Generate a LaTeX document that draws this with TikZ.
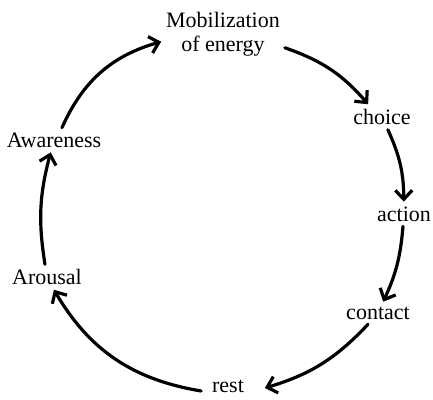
\documentclass[tikz,border=0pt]{standalone}
\usepackage{fontspec}
\setmainfont{Liberation Serif}
\usetikzlibrary{arrows.meta,calc}
\tikzset{
  lbl/.style={font=\fontsize{22}{24}\selectfont, inner sep=2pt, outer sep=3pt, align=center},
  arr/.style={line width=3.2pt, line cap=round, -{Straight Barb[length=9pt,width=17pt,line width=3.2pt]}}
}
\begin{document}
\begin{tikzpicture}[x=1pt,y=1pt]
\useasboundingbox (0,0) rectangle (433,399);
\node[lbl] (mob) at (223,365) {Mobilization\\of energy};
\node[lbl] (choice) at (382,282) {choice};
\node[lbl] (action) at (404,185) {action};
\node[lbl] (contact) at (378,86) {contact};
\node[lbl] (rest) at (228,13) {rest};
\node[lbl] (arousal) at (47,122) {Arousal};
\node[lbl] (aware) at (54,259) {Awareness};
\draw[arr] (aware) to[bend left=25] (mob);
\draw[arr] (mob) to[bend left=15] (choice);
\draw[arr] (choice) to[bend left=12] (action);
\draw[arr] (action) to[bend left=10] (contact);
\draw[arr] (contact) to[bend left=15] ($(rest.east)+(16,-2)$);
\draw[arr] ($(rest.west)+(-6,-5)$) to[bend left=25] (arousal);
\draw[arr] (arousal) to[bend left=12] (aware);
\end{tikzpicture}
\end{document}
